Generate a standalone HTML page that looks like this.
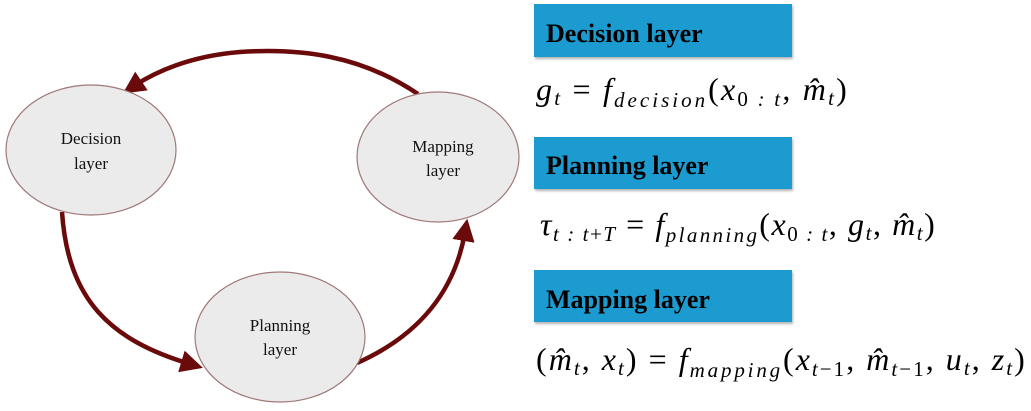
<!DOCTYPE html>
<html><head><meta charset="utf-8"><style>
html,body{margin:0;padding:0;background:#fff;width:1031px;height:411px;overflow:hidden}
</style></head><body>
<svg width="1031" height="411" xmlns="http://www.w3.org/2000/svg" font-family="Liberation Serif, serif">
<defs>
<marker id="ah" markerWidth="5" markerHeight="5" refX="2" refY="2.5" orient="auto" markerUnits="strokeWidth">
<path d="M0,0 L5,2.5 L0,5 Z" fill="#6b0a0a"/></marker>
<filter id="sh" x="-10%" y="-10%" width="130%" height="140%"><feDropShadow dx="1" dy="2" stdDeviation="1.2" flood-color="#000" flood-opacity="0.3"/></filter>
</defs>
<g fill="none" stroke="#6b0a0a" stroke-width="4.5">
<path d="M418,94 C360,55 300,48 240,52 C190,56 155,72 134,86" marker-end="url(#ah)"/>
<path d="M62,212 C68,300 110,340 190,364" marker-end="url(#ah)"/>
<path d="M357,363 C420,335 455,290 465,232" marker-end="url(#ah)"/>
</g>
<g fill="#ebebeb" stroke="#a07878" stroke-width="1.2">
<ellipse cx="91" cy="150" rx="85" ry="65"/>
<ellipse cx="438" cy="157" rx="81" ry="65"/>
<ellipse cx="280" cy="337" rx="85" ry="65"/>
</g>
<g font-size="17" fill="#111" text-anchor="middle">
<text x="91" y="144">Decision</text><text x="91" y="169">layer</text>
<text x="443" y="152">Mapping</text><text x="443" y="176">layer</text>
<text x="280" y="331">Planning</text><text x="280" y="355">layer</text>
</g>
<g fill="#1a9bd0" filter="url(#sh)">
<rect x="534" y="4" width="258" height="53"/>
<rect x="534" y="137" width="258" height="52"/>
<rect x="534" y="270" width="258" height="52"/>
</g>
<g font-size="26" font-weight="bold" fill="#000">
<text x="546" y="42">Decision layer</text>
<text x="546" y="174">Planning layer</text>
<text x="546" y="308">Mapping layer</text>
</g>
<g font-size="32" fill="#000" font-style="italic" letter-spacing="1.2">
<text x="536" y="100" textLength="312" lengthAdjust="spacing">g<tspan font-size="21" dy="5">t</tspan><tspan dy="-5" font-style="normal"> = </tspan>f<tspan font-size="21" dy="7" letter-spacing="2">decision</tspan><tspan dy="-7" font-style="normal">(</tspan>x<tspan font-size="21" dy="6" font-style="normal">0</tspan><tspan font-size="21"> : t</tspan><tspan dy="-6" font-style="normal">, </tspan>m̂<tspan font-size="21" dy="5">t</tspan><tspan dy="-5" font-style="normal">)</tspan></text>
<text x="540" y="235" textLength="396" lengthAdjust="spacing">τ<tspan font-size="21" dy="6">t : t</tspan><tspan font-size="21" font-style="normal">+</tspan><tspan font-size="21">T</tspan><tspan dy="-6" font-style="normal"> = </tspan>f<tspan font-size="21" dy="7" letter-spacing="2">planning</tspan><tspan dy="-7" font-style="normal">(</tspan>x<tspan font-size="21" dy="6" font-style="normal">0</tspan><tspan font-size="21"> : t</tspan><tspan dy="-6" font-style="normal">, </tspan>g<tspan font-size="21" dy="5">t</tspan><tspan dy="-5" font-style="normal">, </tspan>m̂<tspan font-size="21" dy="5">t</tspan><tspan dy="-5" font-style="normal">)</tspan></text>
<text x="536" y="370" textLength="490" lengthAdjust="spacing"><tspan font-style="normal">(</tspan>m̂<tspan font-size="21" dy="5">t</tspan><tspan dy="-5" font-style="normal">, </tspan>x<tspan font-size="21" dy="5">t</tspan><tspan dy="-5" font-style="normal">) = </tspan>f<tspan font-size="21" dy="7" letter-spacing="2">mapping</tspan><tspan dy="-7" font-style="normal">(</tspan>x<tspan font-size="21" dy="6">t</tspan><tspan font-size="21" font-style="normal">−1</tspan><tspan dy="-6" font-style="normal">, </tspan>m̂<tspan font-size="21" dy="6">t</tspan><tspan font-size="21" font-style="normal">−1</tspan><tspan dy="-6" font-style="normal">, </tspan>u<tspan font-size="21" dy="5">t</tspan><tspan dy="-5" font-style="normal">, </tspan>z<tspan font-size="21" dy="5">t</tspan><tspan dy="-5" font-style="normal">)</tspan></text>
</g>
</svg>
</body></html>
